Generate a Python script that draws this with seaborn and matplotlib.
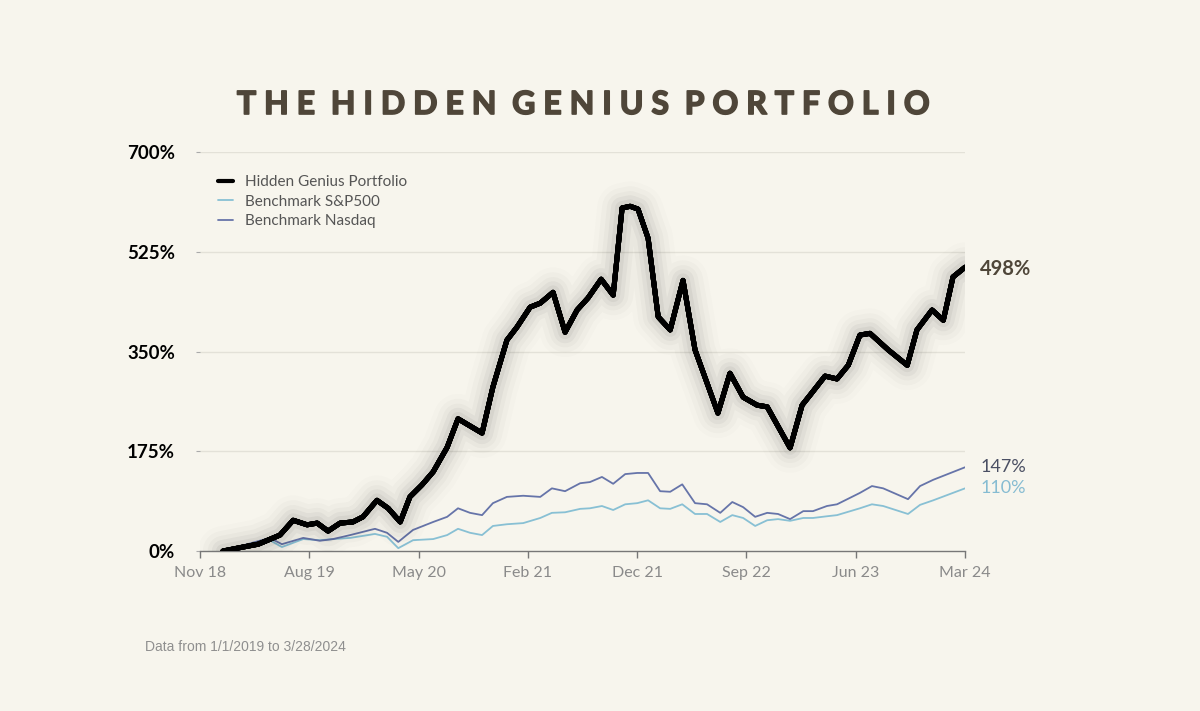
import pandas as pd
import numpy as np
import seaborn as sns
import matplotlib.pyplot as plt
import matplotlib.patheffects as pe

# hidden genius portfolio, cumulative return in %
hg_dates = ['2019-01-01', '2019-02-22', '2019-04-02', '2019-05-28', '2019-07-01', '2019-08-06',
            '2019-09-01', '2019-09-29', '2019-10-30', '2019-12-02', '2019-12-28', '2020-02-02',
            '2020-03-02', '2020-04-02', '2020-04-27', '2020-05-28', '2020-06-26', '2020-08-01',
            '2020-08-29', '2020-10-30', '2020-11-27', '2021-01-02', '2021-01-28', '2021-03-03',
            '2021-03-29', '2021-05-01', '2021-06-01', '2021-07-02', '2021-07-30', '2021-09-02',
            '2021-10-03', '2021-10-26', '2021-11-16', '2021-12-06', '2022-01-01', '2022-01-27',
            '2022-02-27', '2022-04-01', '2022-05-02', '2022-06-30', '2022-07-31', '2022-09-03',
            '2022-10-09', '2022-11-04', '2023-01-02', '2023-02-02', '2023-02-23', '2023-04-02',
            '2023-05-03', '2023-06-01', '2023-07-01', '2023-07-27', '2023-09-12', '2023-10-31',
            '2023-11-25', '2024-01-03', '2024-02-01', '2024-02-26', '2024-03-28']
hg_values = [0, 7, 12, 28, 54, 46, 49, 35, 49, 51, 60, 89, 75, 51, 95, 116, 139, 182,
             232, 207, 288, 370, 393, 428, 435, 454, 384, 423, 444, 477, 449, 602, 605, 600,
             549, 411, 388, 475, 353, 242, 312, 270, 256, 253, 181, 256, 274, 307, 302, 326,
             379, 382, 353, 326, 388, 423, 405, 481, 498]

# benchmarks share the same dates
bm_dates = ['2019-01-01', '2019-05-02', '2019-06-02', '2019-07-27', '2019-09-08', '2019-10-12',
            '2019-11-25', '2020-01-28', '2020-02-28', '2020-03-28', '2020-05-05', '2020-06-26',
            '2020-08-01', '2020-08-29', '2020-09-29', '2020-10-30', '2020-11-27', '2021-01-02',
            '2021-02-13', '2021-03-29', '2021-04-28', '2021-06-01', '2021-07-10', '2021-08-04',
            '2021-09-04', '2021-10-03', '2021-11-03', '2021-12-04', '2022-01-01', '2022-02-01',
            '2022-02-27', '2022-03-30', '2022-05-02', '2022-06-02', '2022-07-06', '2022-08-06',
            '2022-09-03', '2022-10-04', '2022-11-04', '2022-12-02', '2023-01-02', '2023-02-05',
            '2023-03-02', '2023-04-07', '2023-05-03', '2023-07-01', '2023-08-01', '2023-08-30',
            '2023-11-02', '2023-12-03', '2024-01-06', '2024-03-28']
nasdaq_values = [0, 23, 12, 23, 18, 21, 28, 39, 32, 16, 37, 51, 60, 75, 67, 63, 84, 95,
                 97, 95, 110, 105, 119, 121, 130, 118, 135, 137, 137, 105, 104, 117, 84, 82,
                 67, 86, 77, 60, 67, 65, 56, 70, 70, 79, 82, 102, 114, 110, 91, 114, 125, 147]
sp500_values = [0, 19, 7, 21, 19, 21, 23, 30, 25, 5, 19, 21, 28, 39, 32, 28, 44, 47,
                49, 58, 67, 68, 74, 75, 79, 72, 82, 84, 89, 75, 74, 82, 65, 65,
                51, 63, 58, 44, 54, 56, 53, 58, 58, 61, 63, 75, 82, 79, 65, 81, 89, 110]

y_ticks = [0, 175, 350, 525, 700]
x_start, x_end = '2018-11-03', '2024-03-28'

hg = pd.DataFrame({'Date': pd.to_datetime(hg_dates), 'Return': hg_values})
bm = pd.DataFrame({'Date': pd.to_datetime(bm_dates), 'Nasdaq': nasdaq_values, 'SP500': sp500_values})

bg = '#f7f5ed'
sns.set_theme(style="white", rc={'figure.facecolor': bg, 'axes.facecolor': bg})
plt.rcParams['font.family'] = ['Lato', 'DejaVu Sans']

fig = plt.figure(figsize=(12, 7.11), dpi=100)
ax = fig.add_axes([0.1667, 0.225, 0.6375, 0.561])

#horizontal grid first so lines sit over it
for v in y_ticks[1:]:
    ax.axhline(v, color='#e3e1d8', lw=1, zorder=0)

sns.lineplot(data=bm, x='Date', y='SP500', color='#88c0d4', lw=1.3, ax=ax, label='Benchmark S&P500', zorder=3)
sns.lineplot(data=bm, x='Date', y='Nasdaq', color='#6674a9', lw=1.3, ax=ax, label='Benchmark Nasdaq', zorder=3)
sns.lineplot(data=hg, x='Date', y='Return', color='black', lw=3.6, ax=ax,
             label='Hidden Genius Portfolio', zorder=4)
# soft glow around the portfolio line
ax.lines[-1].set_path_effects([
    pe.withStroke(linewidth=36, foreground='black', alpha=0.012),
    pe.withStroke(linewidth=29, foreground='black', alpha=0.018),
    pe.withStroke(linewidth=22, foreground='black', alpha=0.025),
    pe.withStroke(linewidth=16, foreground='black', alpha=0.035),
    pe.withStroke(linewidth=10, foreground='black', alpha=0.045),
    pe.Normal()])
ax.lines[-1].set_solid_capstyle('round')
ax.lines[-1].set_solid_joinstyle('round')

ax.set_xlim(pd.Timestamp(x_start), pd.Timestamp(x_end))
ax.set_ylim(0, 700)
ticks = pd.date_range(x_start, x_end, periods=8)
ax.set_xticks(ticks)
ax.set_xticklabels([t.strftime('%b %y') for t in ticks], fontsize=11.5, color='#8a8a8a')
ax.set_yticks(y_ticks)
ax.set_yticklabels([f'{v}%' for v in y_ticks], fontsize=13.5, fontweight='bold', color='black')
ax.tick_params(axis='x', length=5, width=1, color='#777777', pad=6, bottom=True)
ax.tick_params(axis='y', length=3, width=0.8, color='#aaaaaa', pad=15, left=True)
ax.set_xlabel('')
ax.set_ylabel('')
for s in ['top', 'right', 'left']:
    ax.spines[s].set_visible(False)
ax.spines['bottom'].set_color('#777777')
ax.spines['bottom'].set_linewidth(1)

# legend, order as in the picture
h, l = ax.get_legend_handles_labels()
leg = ax.legend([h[2], h[0], h[1]], [l[2], l[0], l[1]], loc='upper left',
                bbox_to_anchor=(0.005, 0.976), frameon=False, fontsize=11,
                handlelength=1.0, handletextpad=0.8, labelspacing=0.35)
for t in leg.get_texts():
    t.set_color('#555555')
for ln in leg.get_lines():
    ln.set_path_effects([])
leg.get_lines()[0].set_linewidth(3)

# end labels
ax.annotate(f'{hg_values[-1]}%', (hg['Date'].iloc[-1], hg_values[-1]), xytext=(11, -1),
            textcoords='offset points', fontsize=14.5, fontweight='bold', color='#4f4639', va='center')
ax.annotate(f'{nasdaq_values[-1]}%', (bm['Date'].iloc[-1], nasdaq_values[-1]), xytext=(11, 0),
            textcoords='offset points', fontsize=13, color='#4a4f63', va='center')
ax.annotate(f'{sp500_values[-1]}%', (bm['Date'].iloc[-1], sp500_values[-1]), xytext=(11, 0),
            textcoords='offset points', fontsize=13, color='#86bcd2', va='center')

# title with letter spacing, stroked a bit to look heavier
title = 'THE HIDDEN GENIUS PORTFOLIO'
spaced = '\u200a\u200a \u200a\u200a'.join('\u200a\u200a\u200a\u200a'.join(w) for w in title.split())
fig.text(0.487, 0.853, spaced, ha='center', va='center', fontsize=23, fontweight='bold',
         color='#4f4639', family=['Lato', 'DejaVu Sans'],
         path_effects=[pe.withStroke(linewidth=1.2, foreground='#4f4639')])

fig.text(0.121, 0.09, 'Data from 1/1/2019 to 3/28/2024', fontsize=10, color='#8f8f8f',
         family=['Liberation Sans', 'DejaVu Sans'], va='center')

fig.savefig('out.png', dpi=100, facecolor=bg)
